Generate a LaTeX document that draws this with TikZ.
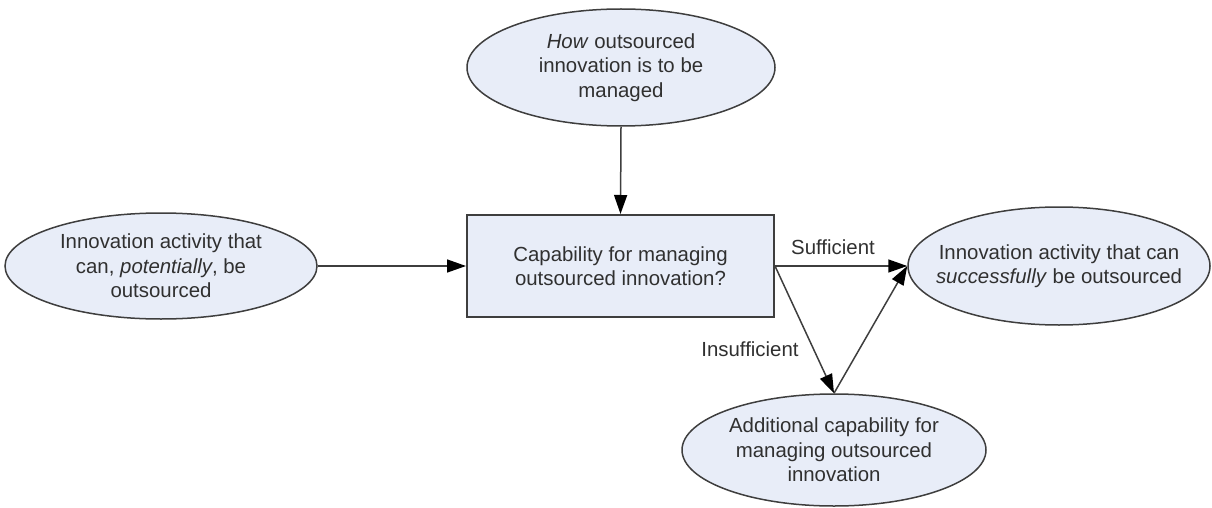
\documentclass[tikz,border=0pt]{standalone}
\usepackage{fontspec}
\setmainfont{Liberation Sans}
\usetikzlibrary{shapes.geometric,arrows.meta}
\definecolor{nodefill}{RGB}{232,237,248}
\definecolor{edge}{RGB}{62,62,62}
\definecolor{ink}{RGB}{48,48,48}
\begin{document}
\begin{tikzpicture}[x=1pt,y=-1pt,
  every node/.style={font=\fontsize{20.4}{24.5}\selectfont, text=ink},
  oval/.style={ellipse, draw=edge, line width=1.5pt, fill=nodefill,
    inner xsep=-20pt, inner ysep=0pt, align=center},
  panel/.style={rectangle, draw=edge, line width=2pt, fill=nodefill,
    minimum width=307pt, minimum height=102pt, align=center},
  flow/.style={draw=edge, line width=1.5pt,
    -{Triangle[length=19pt,width=13pt,color=black]}}
]
\useasboundingbox (0,0) rectangle (1212,508);

% ovals and the decision box
\node[oval, minimum width=308pt, minimum height=117pt] (how) at (621,67.5)
  {\textit{How} outsourced\\innovation is to be\\managed};
\node[oval, minimum width=312pt, minimum height=106pt] (pot) at (161,266)
  {Innovation activity that\\can, \textit{potentially}, be\\outsourced};
\node[panel] (cap) at (620.5,266)
  {Capability for managing\\outsourced innovation?};
\node[oval, minimum width=302pt, minimum height=118pt] (succ) at (1059,266)
  {Innovation activity that can\\\textit{successfully} be outsourced};
\node[oval, minimum width=304pt, minimum height=112pt] (add) at (834,450)
  {Additional capability for\\managing outsourced\\innovation};

% connectors
\draw[flow] (pot.east) -- (cap.west);
\draw[flow] (how.south) -- (cap.north);
\draw[flow] (cap.east) -- (succ.west);
\draw[flow] (cap.east) -- (add.north);
\draw[flow] (add.north) -- (succ.west);

% branch labels
\node (suff) at (833,247) {Sufficient};
\node (insuff) at (750,349) {Insufficient};
\end{tikzpicture}
\end{document}
